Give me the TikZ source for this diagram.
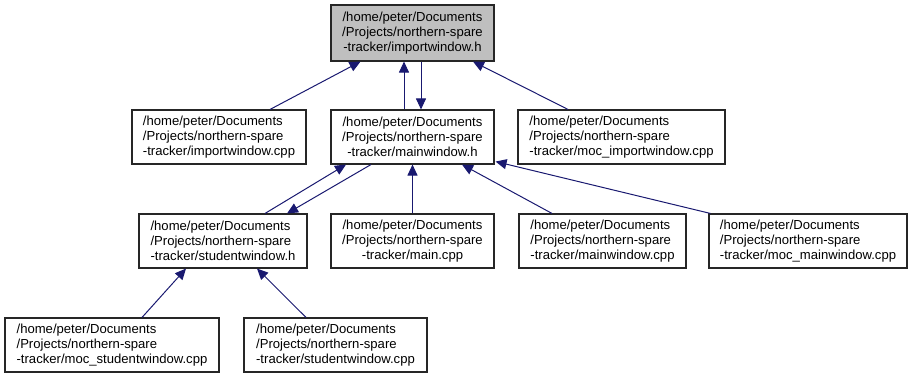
\documentclass[tikz,border=0pt]{standalone}
\usepackage{fontspec}
\setmainfont{Liberation Sans}
\usepackage{tikz}
\usetikzlibrary{arrows.meta}

\definecolor{edgeblue}{HTML}{191970}
\definecolor{boxgrey}{HTML}{BFBFBF}

\tikzset{
    file/.style={draw=black!85,line width=1.1pt,rectangle,minimum height=54pt,
        inner sep=0pt,align=left,font=\fontsize{13.1}{14.7}\selectfont},
    incl/.style={edgeblue,line width=1pt,-{Triangle[length=11pt,width=10pt]}}
}

\begin{document}
\begin{tikzpicture}[x=1pt,y=1pt]
    \useasboundingbox (0,0) rectangle (913,-379);

    % header and the files including it
    \node[file,fill=boxgrey,minimum width=163pt,minimum height=56pt,align=center]
        (importh) at (412.5,-33) {/home/peter/Documents\\/Projects/northern-spare\\-tracker/importwindow.h};
    \node[file,minimum width=174pt] (importcpp) at (219,-137)
        {/home/peter/Documents\\/Projects/northern-spare\\-tracker/importwindow.cpp};
    \node[file,minimum width=163pt,align=center] (mainh) at (412.5,-137)
        {/home/peter/Documents\\/Projects/northern-spare\\-tracker/mainwindow.h};
    \node[file,minimum width=207pt] (mocimport) at (621.5,-137)
        {/home/peter/Documents\\/Projects/northern-spare\\-tracker/moc\_importwindow.cpp};

    \node[file,minimum width=168pt] (studenth) at (223,-241)
        {/home/peter/Documents\\/Projects/northern-spare\\-tracker/studentwindow.h};
    \node[file,minimum width=163pt,align=center] (maincpp) at (412.5,-241)
        {/home/peter/Documents\\/Projects/northern-spare\\-tracker/main.cpp};
    \node[file,minimum width=167pt] (maincppw) at (602.5,-241)
        {/home/peter/Documents\\/Projects/northern-spare\\-tracker/mainwindow.cpp};
    \node[file,minimum width=198pt] (mocmain) at (808,-241)
        {/home/peter/Documents\\/Projects/northern-spare\\-tracker/moc\_mainwindow.cpp};

    \node[file,minimum width=214pt] (mocstudent) at (112,-345)
        {/home/peter/Documents\\/Projects/northern-spare\\-tracker/moc\_studentwindow.cpp};
    \node[file,minimum width=183pt] (studentcpp) at (335.5,-345)
        {/home/peter/Documents\\/Projects/northern-spare\\-tracker/studentwindow.cpp};

    % include edges
    \draw[incl] ([xshift=51pt]importcpp.north) -- ([xshift=-52pt]importh.south);
    \draw[incl] ([xshift=-8.5pt]mainh.north) -- ([xshift=-8.5pt]importh.south);
    \draw[incl] ([xshift=8.5pt]importh.south) -- ([xshift=8.5pt]mainh.north);
    \draw[incl] ([xshift=-53.5pt]mocimport.north) -- ([xshift=60.5pt]importh.south);

    \draw[incl] ([xshift=42pt]studenth.north) -- ([xshift=-66.5pt]mainh.south);
    \draw[incl] ([xshift=-41.5pt]mainh.south) -- ([xshift=64pt]studenth.north);
    \draw[incl] (maincpp.north) -- (mainh.south);
    \draw[incl] ([xshift=-50.5pt]maincppw.north) -- ([xshift=49.5pt]mainh.south);
    \draw[incl] ([xshift=2pt]mocmain.north west) -- ([xshift=1pt,yshift=3pt]mainh.south east);

    \draw[incl] ([xshift=30pt]mocstudent.north) -- ([xshift=-37pt]studenth.south);
    \draw[incl] ([xshift=-29.5pt]studentcpp.north) -- ([xshift=34pt]studenth.south);
\end{tikzpicture}
\end{document}
